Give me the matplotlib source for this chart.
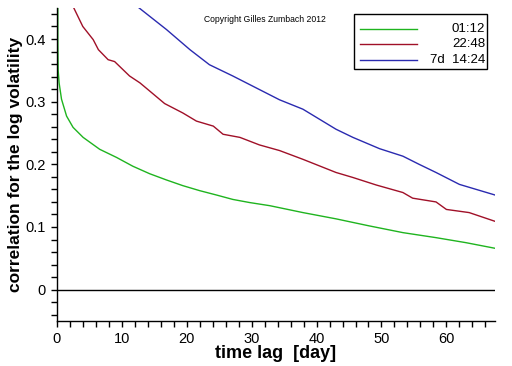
import matplotlib
matplotlib.use("Agg")
import matplotlib.pyplot as plt
from matplotlib.lines import Line2D
from matplotlib.patches import Rectangle
from matplotlib.ticker import MultipleLocator


# values
GREEN_LAG = [0.15, 0.15, 0.2, 0.35, 0.72, 1.5, 2.5, 4.05, 6.6, 9.2, 11.7,
             14.3, 16.9, 19.4, 22.0, 24.6, 27.1, 29.7, 32.8, 37.9, 43.0, 48.0,
             53.3, 58.4, 63.0, 67.5]
GREEN_CORR = [0.50, 0.40, 0.351, 0.330, 0.304, 0.277, 0.259, 0.243, 0.224,
              0.211, 0.197, 0.185, 0.175, 0.166, 0.158, 0.151, 0.144, 0.139,
              0.134, 0.123, 0.113, 0.102, 0.091, 0.083, 0.075, 0.066]

RED_LAG = [2.5, 4.0, 5.6, 6.4, 7.9, 8.9, 11.2, 12.8, 14.3, 16.6, 19.4, 21.5,
           24.1, 25.6, 28.2, 31.2, 34.3, 37.9, 43.0, 45.6, 49.2, 53.3, 54.8,
           58.4, 60.0, 63.5, 67.5]
RED_CORR = [0.452, 0.420, 0.399, 0.383, 0.367, 0.364, 0.341, 0.330, 0.317,
            0.297, 0.282, 0.269, 0.261, 0.248, 0.243, 0.231, 0.222, 0.208,
            0.187, 0.179, 0.167, 0.155, 0.146, 0.140, 0.128, 0.123, 0.109]

BLUE_LAG = [12.5, 16.9, 20.5, 23.5, 27.1, 30.7, 34.3, 37.9, 43.0, 45.6, 49.7,
            53.3, 55.8, 58.4, 62.0, 67.5]
BLUE_CORR = [0.451, 0.415, 0.383, 0.359, 0.341, 0.322, 0.303, 0.288, 0.256,
             0.243, 0.225, 0.213, 0.200, 0.187, 0.168, 0.151]

LABELS = ["01:12", "22:48", "7d  14:24"]
COLORS = ["#1fb41f", "#a01028", "#2a2ab0"]

X_TICKS = [0, 10, 20, 30, 40, 50, 60]
Y_TICKS = [0.0, 0.1, 0.2, 0.3, 0.4]
Y_TICK_LABELS = ["0", "0.1", "0.2", "0.3", "0.4"]

WIDTH_PX, HEIGHT_PX = 512, 366


def fig_xy(px, py):
    # pixel position (from top-left) -> figure fraction
    return px / WIDTH_PX, 1 - py / HEIGHT_PX


def draw_legend(figure):
    # boxed legend with right-aligned labels, as in the reference
    x0, y1 = fig_xy(354, 14)
    x1, y0 = fig_xy(487, 69)
    figure.add_artist(Rectangle((x0, y0), x1 - x0, y1 - y0,
                                transform=figure.transFigure,
                                facecolor="white", edgecolor="black",
                                linewidth=1.0, zorder=5))
    rows_py = [29, 44, 60]
    for label, color, py in zip(LABELS, COLORS, rows_py):
        lx0, ly = fig_xy(360, py)
        lx1, _ = fig_xy(417, py)
        figure.add_artist(Line2D([lx0, lx1], [ly, ly],
                                 transform=figure.transFigure,
                                 color=color, linewidth=1.0, zorder=6))
        tx, _ = fig_xy(485, py)
        figure.text(tx, ly, label, ha="right", va="center",
                    fontsize=9.5, zorder=6)


def main() -> None:
    plt.rcParams["font.family"] = ["Liberation Sans", "DejaVu Sans"]

    figure = plt.figure(figsize=(5.12, 3.66), dpi=100)
    axis = figure.add_axes([0.111, 0.123, 0.856, 0.856])

    series = [
        (GREEN_LAG, GREEN_CORR),
        (RED_LAG, RED_CORR),
        (BLUE_LAG, BLUE_CORR),
    ]
    for (lag, corr), color in zip(series, COLORS):
        axis.plot(lag, corr, color=color, linewidth=1.0)

    axis.axhline(0.0, color="black", linewidth=1.0)

    axis.set_xlim(0, 67.5)
    axis.set_ylim(-0.05, 0.45)

    axis.spines["top"].set_visible(False)
    axis.spines["right"].set_visible(False)
    axis.spines["left"].set_linewidth(1.0)
    axis.spines["bottom"].set_linewidth(1.0)

    axis.set_xticks(X_TICKS)
    axis.xaxis.set_minor_locator(MultipleLocator(2))
    axis.set_yticks(Y_TICKS)
    axis.set_yticklabels(Y_TICK_LABELS)
    axis.yaxis.set_minor_locator(MultipleLocator(0.02))
    axis.tick_params(which="both", direction="out", length=4, width=1,
                     labelsize=10.5)
    axis.tick_params(axis="x", pad=4)
    axis.tick_params(axis="y", pad=4)

    axis.set_xlabel("time lag  [day]", fontsize=13, fontweight="bold",
                    labelpad=-1)
    axis.set_ylabel("correlation for the log volatility", fontsize=12.5,
                    fontweight="bold", labelpad=2)

    axis.text(0.336, 0.955, "Copyright Gilles Zumbach 2012",
              transform=axis.transAxes, fontsize=6.2)

    draw_legend(figure)

    figure.savefig("out.png", dpi=100)
    plt.close(figure)


if __name__ == "__main__":
    main()
